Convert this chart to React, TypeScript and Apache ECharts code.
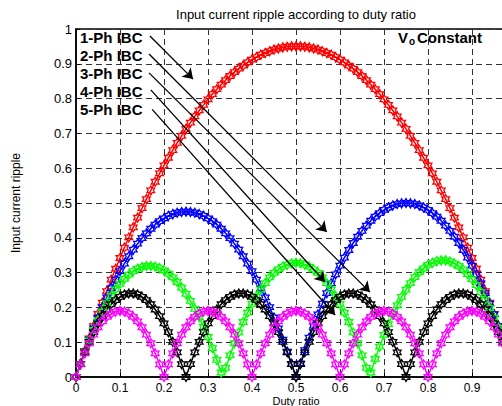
import React, { useEffect, useRef } from "react";
import * as echarts from "echarts";

const FONT = "'Liberation Sans', Arial, Helvetica, sans-serif";

const duty = [
  0, 0.01, 0.02, 0.03, 0.04, 0.05, 0.06, 0.07, 0.08, 0.09,
  0.1, 0.11, 0.12, 0.13, 0.14, 0.15, 0.16, 0.17, 0.18, 0.19,
  0.2, 0.21, 0.22, 0.23, 0.24, 0.25, 0.26, 0.27, 0.28, 0.29,
  0.3, 0.31, 0.32, 0.33, 0.34, 0.35, 0.36, 0.37, 0.38, 0.39,
  0.4, 0.41, 0.42, 0.43, 0.44, 0.45, 0.46, 0.47, 0.48, 0.49,
  0.5, 0.51, 0.52, 0.53, 0.54, 0.55, 0.56, 0.57, 0.58, 0.59,
  0.6, 0.61, 0.62, 0.63, 0.64, 0.65, 0.66, 0.67, 0.68, 0.69,
  0.7, 0.71, 0.72, 0.73, 0.74, 0.75, 0.76, 0.77, 0.78, 0.79,
  0.8, 0.81, 0.82, 0.83, 0.84, 0.85, 0.86, 0.87, 0.88, 0.89,
  0.9, 0.91, 0.92, 0.93, 0.94, 0.95, 0.96, 0.97, 0.98, 0.99, 1,
];

const ph1 = [
  0, 0.038, 0.075, 0.111, 0.146, 0.181, 0.214, 0.247, 0.28, 0.311,
  0.342, 0.372, 0.401, 0.43, 0.458, 0.485, 0.511, 0.536, 0.561, 0.585,
  0.608, 0.63, 0.652, 0.673, 0.693, 0.713, 0.731, 0.749, 0.766, 0.782,
  0.798, 0.813, 0.827, 0.84, 0.853, 0.865, 0.876, 0.886, 0.895, 0.904,
  0.912, 0.919, 0.926, 0.931, 0.936, 0.941, 0.944, 0.947, 0.949, 0.95,
  0.95, 0.95, 0.949, 0.947, 0.944, 0.941, 0.936, 0.931, 0.926, 0.919,
  0.912, 0.904, 0.895, 0.886, 0.876, 0.865, 0.853, 0.84, 0.827, 0.813,
  0.798, 0.782, 0.766, 0.749, 0.731, 0.713, 0.693, 0.673, 0.652, 0.63,
  0.608, 0.585, 0.561, 0.536, 0.511, 0.485, 0.458, 0.43, 0.401, 0.372,
  0.342, 0.311, 0.28, 0.247, 0.214, 0.181, 0.146, 0.111, 0.075, 0.038, 0,
];

const ph2 = [
  0, 0.037, 0.073, 0.107, 0.14, 0.171, 0.201, 0.229, 0.255, 0.28,
  0.304, 0.326, 0.347, 0.366, 0.383, 0.399, 0.413, 0.426, 0.438, 0.448,
  0.456, 0.463, 0.468, 0.472, 0.474, 0.475, 0.474, 0.472, 0.468, 0.463,
  0.456, 0.448, 0.438, 0.426, 0.413, 0.399, 0.383, 0.366, 0.347, 0.326,
  0.304, 0.28, 0.255, 0.229, 0.201, 0.171, 0.14, 0.107, 0.073, 0.037,
  0, 0.039, 0.077, 0.113, 0.147, 0.18, 0.211, 0.241, 0.269, 0.295,
  0.32, 0.343, 0.365, 0.385, 0.403, 0.42, 0.435, 0.449, 0.461, 0.471,
  0.48, 0.487, 0.493, 0.497, 0.499, 0.5, 0.499, 0.497, 0.493, 0.487,
  0.48, 0.471, 0.461, 0.449, 0.435, 0.42, 0.403, 0.385, 0.365, 0.343,
  0.32, 0.295, 0.269, 0.241, 0.211, 0.18, 0.147, 0.113, 0.077, 0.039, 0,
];

const ph3 = [
  0, 0.037, 0.072, 0.105, 0.135, 0.163, 0.188, 0.212, 0.233, 0.252,
  0.268, 0.282, 0.294, 0.304, 0.311, 0.316, 0.319, 0.319, 0.317, 0.313,
  0.306, 0.297, 0.286, 0.273, 0.257, 0.239, 0.219, 0.196, 0.172, 0.144,
  0.115, 0.083, 0.049, 0.013, 0.026, 0.062, 0.097, 0.128, 0.158, 0.185,
  0.21, 0.232, 0.252, 0.27, 0.286, 0.299, 0.309, 0.317, 0.323, 0.327,
  0.328, 0.327, 0.323, 0.317, 0.309, 0.299, 0.286, 0.27, 0.252, 0.232,
  0.21, 0.185, 0.158, 0.128, 0.097, 0.062, 0.026, 0.013, 0.052, 0.087,
  0.121, 0.152, 0.18, 0.206, 0.23, 0.251, 0.27, 0.287, 0.301, 0.312,
  0.322, 0.328, 0.333, 0.335, 0.335, 0.332, 0.326, 0.319, 0.309, 0.296,
  0.281, 0.264, 0.244, 0.222, 0.198, 0.171, 0.142, 0.11, 0.076, 0.039, 0,
];

const ph4 = [
  0, 0.037, 0.071, 0.101, 0.129, 0.154, 0.175, 0.194, 0.209, 0.221,
  0.23, 0.237, 0.24, 0.24, 0.237, 0.23, 0.221, 0.209, 0.194, 0.175,
  0.154, 0.129, 0.101, 0.071, 0.037, 0, 0.037, 0.071, 0.101, 0.129,
  0.154, 0.175, 0.194, 0.209, 0.221, 0.23, 0.237, 0.24, 0.24, 0.237,
  0.23, 0.221, 0.209, 0.194, 0.175, 0.154, 0.129, 0.101, 0.071, 0.037,
  0, 0.037, 0.071, 0.101, 0.129, 0.154, 0.175, 0.194, 0.209, 0.221,
  0.23, 0.237, 0.24, 0.24, 0.237, 0.23, 0.221, 0.209, 0.194, 0.175,
  0.154, 0.129, 0.101, 0.071, 0.037, 0, 0.037, 0.071, 0.101, 0.129,
  0.154, 0.175, 0.194, 0.209, 0.221, 0.23, 0.237, 0.24, 0.24, 0.237,
  0.23, 0.221, 0.209, 0.194, 0.175, 0.154, 0.129, 0.101, 0.071, 0.037, 0,
];

const ph5 = [
  0, 0.036, 0.068, 0.097, 0.122, 0.143, 0.16, 0.173, 0.182, 0.188,
  0.19, 0.188, 0.182, 0.173, 0.16, 0.143, 0.122, 0.097, 0.068, 0.036,
  0, 0.036, 0.068, 0.097, 0.122, 0.143, 0.16, 0.173, 0.182, 0.188,
  0.19, 0.188, 0.182, 0.173, 0.16, 0.143, 0.122, 0.097, 0.068, 0.036,
  0, 0.036, 0.068, 0.097, 0.122, 0.143, 0.16, 0.173, 0.182, 0.188,
  0.19, 0.188, 0.182, 0.173, 0.16, 0.143, 0.122, 0.097, 0.068, 0.036,
  0, 0.036, 0.068, 0.097, 0.122, 0.143, 0.16, 0.173, 0.182, 0.188,
  0.19, 0.188, 0.182, 0.173, 0.16, 0.143, 0.122, 0.097, 0.068, 0.036,
  0, 0.036, 0.068, 0.097, 0.122, 0.143, 0.16, 0.173, 0.182, 0.188,
  0.19, 0.188, 0.182, 0.173, 0.16, 0.143, 0.122, 0.097, 0.068, 0.036, 0,
];

const seriesNames = ["1-Ph IBC", "2-Ph IBC", "3-Ph IBC", "4-Ph IBC", "5-Ph IBC"];
const seriesColors = ["#ff0000", "#0000ff", "#00ff00", "#000000", "#ff00ff"];
const seriesValues = [ph1, ph2, ph3, ph4, ph5];

// arrows: [x0, y0, x1, y1] in data units (from label to curve)
const arrows = [
  [0.168, 0.98, 0.266, 0.856],
  [0.166, 0.928, 0.57, 0.417],
  [0.166, 0.874, 0.668, 0.244],
  [0.17, 0.825, 0.566, 0.273],
  [0.173, 0.769, 0.589, 0.178],
];

const HEXAGRAM =
  "path://M10 0 L12.89 5 L18.66 5 L15.77 10 L18.66 15 L12.89 15 L10 20 L7.11 15 L1.34 15 L4.23 10 L1.34 5 L7.11 5 Z";

export default function App() {
  const ref = useRef<HTMLDivElement>(null);
  useEffect(() => {
    if (!ref.current) return;
    const chart = echarts.init(ref.current, null, { renderer: "svg" });
    const axisCommon = {
      type: "value" as const,
      min: 0,
      max: 1,
      interval: 0.1,
      nameLocation: "middle" as const,
      nameMoveOverlap: false,
      nameTextStyle: { color: "#000", fontSize: 12, fontFamily: FONT },
      axisLine: { show: true, lineStyle: { color: "#000", width: 1.5 } },
      axisTick: { show: true, inside: true, length: 4, lineStyle: { color: "#000" } },
      splitLine: { show: true, lineStyle: { color: "#333", type: [6, 4], width: 1 } },
    };
    const labels = seriesNames.map((t, i) => ({
      type: "text",
      x: 80,
      y: 37 + i * 18,
      z: 100,
      style: {
        text: t,
        fill: "#000",
        fontSize: 15,
        fontWeight: "bold",
        fontFamily: FONT,
        textAlign: "left",
        textVerticalAlign: "middle",
      },
    }));
    const option: any = {
      animation: false,
      backgroundColor: "#fff",
      textStyle: { fontFamily: FONT },
      grid: {
        left: 76,
        top: 29,
        width: 440,
        height: 348,
        show: true,
        borderColor: "#000",
        borderWidth: 1.5,
        containLabel: false,
        outerBoundsMode: "none",
      },
      xAxis: {
        ...axisCommon,
        name: "Duty ratio",
        nameGap: 18,
        nameTextStyle: { color: "#000", fontSize: 11, fontFamily: FONT },
        axisLabel: { color: "#000", fontSize: 12, margin: 5, fontFamily: FONT, showMaxLabel: false },
      },
      yAxis: {
        ...axisCommon,
        name: "Input current ripple",
        nameGap: 54,
        axisLabel: { color: "#000", fontSize: 13, margin: 4, fontFamily: FONT },
      },
      graphic: [
        {
          type: "text",
          x: 296,
          y: 14,
          style: {
            text: "Input current ripple according to duty ratio",
            fill: "#000",
            fontSize: 13,
            fontFamily: FONT,
            textAlign: "center",
            textVerticalAlign: "middle",
          },
        },
        ...labels,
        {
          type: "text",
          x: 398,
          y: 37,
          z: 100,
          style: { text: "V", fill: "#000", fontSize: 15, fontWeight: "bold", fontFamily: FONT, textVerticalAlign: "middle" },
        },
        {
          type: "text",
          x: 409,
          y: 41,
          z: 100,
          style: { text: "o", fill: "#000", fontSize: 10, fontWeight: "bold", fontFamily: FONT, textVerticalAlign: "middle" },
        },
        {
          type: "text",
          x: 417,
          y: 37,
          z: 100,
          style: { text: "Constant", fill: "#000", fontSize: 15, fontWeight: "bold", fontFamily: FONT, textVerticalAlign: "middle" },
        },
      ],
      series: [
        ...seriesValues.map((vals, k) => ({
          type: "line",
          name: seriesNames[k],
          data: duty.map((d, i) => [d, vals[i]]),
          symbol: HEXAGRAM,
          symbolSize: 9,
          symbolKeepAspect: true,
          showSymbol: true,
          showAllSymbol: true,
          clip: false,
          silent: true,
          lineStyle: { color: seriesColors[k], width: 1.5 },
          itemStyle: { color: "rgba(0,0,0,0)", borderColor: seriesColors[k], borderWidth: 1.3 },
          emphasis: { disabled: true },
        })),
        {
          type: "line",
          name: "arrows",
          data: [],
          z: 5,
          silent: true,
          markLine: {
            silent: true,
            animation: false,
            symbol: ["none", "arrow"],
            symbolSize: 10,
            label: { show: false },
            emphasis: { disabled: true },
            lineStyle: { color: "#000", width: 1.3, type: "solid" },
            data: arrows.map((a) => [
              { coord: [a[0], a[1]] },
              { coord: [a[2], a[3]] },
            ]),
          },
        },
      ],
    };
    chart.setOption(option);
    return () => chart.dispose();
  }, []);
  return (
    <div
      ref={ref}
      style={{ position: "fixed", left: 0, top: 0, width: 502, height: 406, background: "#fff" }}
    />
  );
}
